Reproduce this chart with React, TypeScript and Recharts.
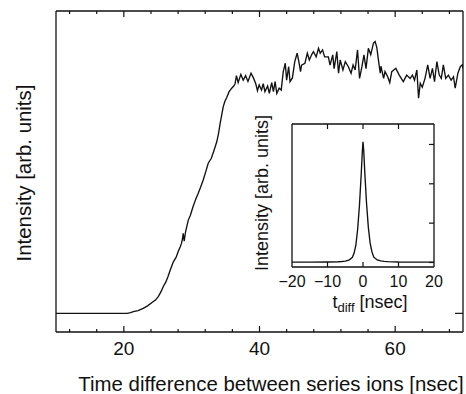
import { Line, LineChart, XAxis, YAxis } from "recharts";

// main trace: time difference [nsec] vs intensity (arb. units, 0 = baseline)
const mainTimes = [
  10, 20.5, 21.0, 21.4, 22.1, 22.85, 23.5, 24.3, 24.7, 25.1, 25.5, 25.8, 26.2, 26.5, 26.9, 27.3, 27.7, 28.0,
  28.3, 28.5, 28.65, 28.75, 28.9, 29.1, 29.5, 29.8, 30.2, 30.6, 30.97, 31.3, 31.7, 32.1, 32.44, 32.9, 33.3,
  33.7, 33.95, 34.2, 34.45, 34.66, 34.9, 35.16, 35.5, 35.9, 36.2, 36.4, 36.6, 36.85, 37.25, 37.6, 37.95, 38.3,
  38.75, 39.1, 39.45, 39.7, 39.95, 40.3, 40.55, 40.8, 41.2, 41.45, 41.8, 42.05, 42.3, 42.55, 42.9, 43.2, 43.5,
  43.8, 44.0, 44.3, 44.5, 44.85, 45.2, 45.55, 45.8, 46.05, 46.2, 46.7, 47.05, 47.35, 47.7, 47.95, 48.35, 48.7,
  48.95, 49.3, 49.6, 50.15, 50.4, 50.8, 51.0, 51.4, 51.65, 51.9, 52.3, 52.65, 53.1, 53.5, 53.8, 54.1, 54.45,
  54.75, 55.1, 55.4, 55.7, 56.05, 56.4, 56.8, 57.05, 57.3, 57.5, 57.8, 57.9, 58.3, 58.5, 58.9, 59.2, 59.5,
  60.1, 60.6, 61.2, 61.7, 62.2, 62.55, 62.85, 63.2, 63.45, 63.7, 64.0, 64.4, 64.8, 65.15, 65.5, 65.8, 66.15,
  66.5, 66.8, 67.1, 67.45, 67.85, 68.25, 68.6, 68.85, 69.25, 69.6, 69.9, 70,
];
const mainIntensity = [
  0, 0, 0.003, 0.007, 0.012, 0.021, 0.032, 0.05, 0.058, 0.073, 0.094, 0.114, 0.135, 0.157, 0.19, 0.221, 0.24,
  0.264, 0.285, 0.3, 0.32, 0.343, 0.31, 0.35, 0.4, 0.42, 0.457, 0.49, 0.515, 0.54, 0.572, 0.61, 0.644, 0.665,
  0.7, 0.736, 0.77, 0.815, 0.855, 0.887, 0.91, 0.925, 0.95, 0.966, 0.975, 0.985, 1.02, 0.99, 1.025, 1.0, 1.02,
  0.995, 1.03, 1.01, 0.985, 0.955, 0.98, 0.958, 0.985, 0.951, 0.975, 0.944, 0.99, 0.951, 0.994, 0.944, 0.966,
  0.958, 1.037, 1.073, 1.0, 1.058, 0.994, 1.01, 1.08, 1.116, 1.08, 1.037, 1.065, 1.073, 1.116, 1.087, 1.11,
  1.123, 1.1, 1.137, 1.116, 1.13, 1.1, 1.1, 1.065, 1.109, 1.05, 1.123, 1.03, 1.087, 1.044, 1.08, 1.058, 1.03,
  1.066, 1.044, 1.13, 1.008, 1.058, 1.109, 1.05, 1.137, 1.11, 1.159, 1.166, 1.14, 1.094, 1.03, 1.06, 1.008,
  1.037, 1.015, 0.99, 1.037, 1.051, 1.022, 0.994, 1.022, 1.008, 1.022, 1.0, 1.044, 0.923, 0.987, 0.97, 1.008,
  1.066, 1.008, 1.051, 0.994, 1.08, 1.022, 1.008, 1.066, 1.008, 1.022, 1.0, 1.015, 0.966, 1.03, 1.058, 1.066,
  1.05,
];

// inset: t_diff [nsec] vs intensity
const insetTimes = [
  -20, -15, -10, -7, -6, -5, -4, -3.5, -3, -2.5, -2, -1.5, -1, -0.5, -0.2, 0, 0.2, 0.5, 1, 1.5, 2, 2.5, 3, 3.5,
  4, 5, 6, 7, 10, 15, 20,
];
const insetIntensity = [
  0.01, 0.01, 0.012, 0.018, 0.025, 0.035, 0.06, 0.09, 0.13, 0.24, 0.45, 0.85, 1.45, 2.25, 2.8, 3.07, 2.85, 2.3,
  1.5, 0.9, 0.5, 0.28, 0.14, 0.1, 0.065, 0.04, 0.028, 0.02, 0.012, 0.01, 0.01,
];

const mainXTicks = [12, 16, 20, 24, 28, 32, 36, 40, 44, 48, 52, 56, 60, 64, 68];
const mainMajorTicks = [20, 40, 60];
const insetXTicks = [-20, -10, 0, 10, 20];
const insetYTicks = [0, 1, 2, 3];

const mainData = mainTimes.map((t, i) => ({ t, v: mainIntensity[i] }));
const insetData = insetTimes.map((t, i) => ({ t, v: insetIntensity[i] }));

const INK = "#111";
const frame = { stroke: INK, strokeWidth: 1.3 };

function MainBottomTick({ x, y, payload }: any) {
  const major = mainMajorTicks.includes(payload.value);
  return (
    <g>
      <line x1={x} x2={x} y1={y} y2={y - (major ? 6 : 3)} stroke={INK} strokeWidth={1.2} />
      {major && (
        <text x={x} y={y + 23} textAnchor="middle" fontSize={19} fill={INK}>
          {payload.value}
        </text>
      )}
    </g>
  );
}

function MainTopTick({ x, y, payload }: any) {
  const major = mainMajorTicks.includes(payload.value);
  return <line x1={x} x2={x} y1={y} y2={y + (major ? 6 : 3)} stroke={INK} strokeWidth={1.2} />;
}

function RightTick({ x, y }: any) {
  return <line x1={x} x2={x - 8} y1={y} y2={y} stroke={INK} strokeWidth={1.2} />;
}

function InsetBottomTick({ x, y, payload }: any) {
  const edge = payload.value === -20 || payload.value === 20;
  const label = payload.value < 0 ? `\u2212${Math.abs(payload.value)}` : `${payload.value}`;
  return (
    <g>
      {!edge && <line x1={x} x2={x} y1={y} y2={y - 5} stroke={INK} strokeWidth={1.2} />}
      <text x={x} y={y + 19.5} textAnchor="middle" fontSize={16} fill={INK}>
        {label}
      </text>
    </g>
  );
}

function InsetTopTick({ x, y, payload }: any) {
  if (payload.value === -20 || payload.value === 20) return <g />;
  return <line x1={x} x2={x} y1={y} y2={y + 5} stroke={INK} strokeWidth={1.2} />;
}

function InsetRightTick({ x, y }: any) {
  return <line x1={x} x2={x - 5} y1={y} y2={y} stroke={INK} strokeWidth={1.2} />;
}

export default function App() {
  return (
    <div
      style={{
        position: "absolute",
        left: 0,
        top: 0,
        width: 466,
        height: 394,
        background: "#fff",
        color: INK,
        fontFamily: "'Liberation Sans', Arial, sans-serif",
      }}
    >
      <LineChart width={466} height={394} data={mainData} margin={{ top: 10, right: 2, bottom: 61, left: 55 }}>
        <XAxis
          xAxisId="b"
          dataKey="t"
          type="number"
          domain={[10, 70]}
          allowDataOverflow
          ticks={mainXTicks}
          interval={0}
          height={1}
          tickSize={0}
          tickMargin={0}
          tickLine={false}
          tick={MainBottomTick}
          axisLine={frame}
        />
        <XAxis
          xAxisId="t"
          orientation="top"
          dataKey="t"
          type="number"
          domain={[10, 70]}
          allowDataOverflow
          ticks={mainXTicks}
          interval={0}
          height={1}
          tickSize={0}
          tickMargin={0}
          tickLine={false}
          tick={MainTopTick}
          axisLine={frame}
        />
        <YAxis yAxisId="l" type="number" domain={[-0.08, 1.297]} allowDataOverflow width={1} tick={false} axisLine={frame} />
        <YAxis
          yAxisId="r"
          orientation="right"
          type="number"
          domain={[-0.08, 1.297]}
          allowDataOverflow
          ticks={[0]}
          interval={0}
          width={1}
          tickSize={0}
          tickMargin={0}
          tickLine={false}
          tick={RightTick}
          axisLine={frame}
        />
        <Line
          xAxisId="b"
          yAxisId="l"
          type="linear"
          dataKey="v"
          stroke={INK}
          strokeWidth={1.35}
          dot={false}
          isAnimationActive={false}
        />
      </LineChart>

      <div style={{ position: "absolute", left: 262, top: 114 }}>
        <LineChart width={200} height={200} data={insetData} margin={{ top: 9, right: 27, bottom: 46, left: 29 }}>
          <XAxis
            xAxisId="b"
            dataKey="t"
            type="number"
            domain={[-20, 20]}
            allowDataOverflow
            ticks={insetXTicks}
            interval={0}
            height={1}
            tickSize={0}
            tickMargin={0}
            tickLine={false}
            tick={InsetBottomTick}
            axisLine={frame}
          />
          <XAxis
            xAxisId="t"
            orientation="top"
            dataKey="t"
            type="number"
            domain={[-20, 20]}
            allowDataOverflow
            ticks={insetXTicks}
            interval={0}
            height={1}
            tickSize={0}
            tickMargin={0}
            tickLine={false}
            tick={InsetTopTick}
            axisLine={frame}
          />
          <YAxis yAxisId="l" type="number" domain={[-0.115, 3.52]} allowDataOverflow width={1} tick={false} axisLine={frame} />
          <YAxis
            yAxisId="r"
            orientation="right"
            type="number"
            domain={[-0.115, 3.52]}
            allowDataOverflow
            ticks={insetYTicks}
            interval={0}
            width={1}
            tickSize={0}
            tickMargin={0}
            tickLine={false}
            tick={InsetRightTick}
            axisLine={frame}
          />
          <Line
            xAxisId="b"
            yAxisId="l"
            type="linear"
            dataKey="v"
            stroke={INK}
            strokeWidth={1.35}
            dot={false}
            isAnimationActive={false}
          />
        </LineChart>
      </div>

      {/* axis titles */}
      <div
        style={{
          position: "absolute",
          left: 271,
          top: 374.3,
          transform: "translateX(-50%)",
          whiteSpace: "nowrap",
          fontSize: 20.4,
          lineHeight: "20px",
        }}
      >
        Time difference between series ions [nsec]
      </div>
      <div
        style={{
          position: "absolute",
          left: 24.3,
          top: 173,
          transform: "translate(-50%, -50%) rotate(-90deg)",
          whiteSpace: "nowrap",
          fontSize: 20.4,
          lineHeight: "20px",
        }}
      >
        Intensity [arb. units]
      </div>
      <div
        style={{
          position: "absolute",
          left: 262.2,
          top: 193,
          transform: "translate(-50%, -50%) rotate(-90deg)",
          whiteSpace: "nowrap",
          fontSize: 18,
          lineHeight: "18px",
        }}
      >
        Intensity [arb. units]
      </div>
      <div
        style={{
          position: "absolute",
          left: 370,
          top: 292.8,
          transform: "translateX(-50%)",
          whiteSpace: "nowrap",
          fontSize: 18,
          lineHeight: "18px",
        }}
      >
        t<span style={{ fontSize: 13, position: "relative", top: 4 }}>diff</span> [nsec]
      </div>
    </div>
  );
}
